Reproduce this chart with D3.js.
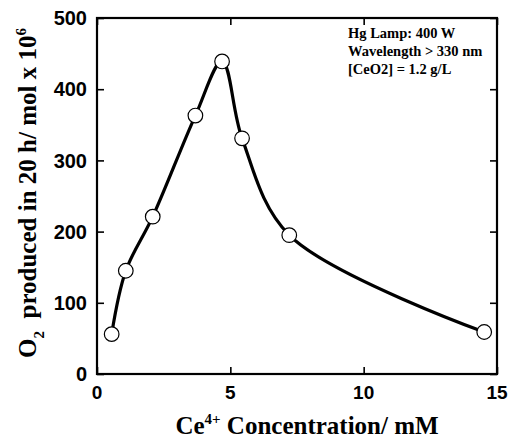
<!DOCTYPE html>
<html>
<head>
<meta charset="utf-8">
<script src="https://cdn.jsdelivr.net/npm/d3@7"></script>
<style>
  html, body { margin: 0; padding: 0; background: #fff; }
  svg { display: block; }
</style>
</head>
<body>
<svg id="chart" width="512" height="442"></svg>
<script>
const concentration = [0.55, 1.08, 2.09, 3.69, 4.69, 5.44, 7.21, 14.52];
const o2Produced = [56, 145, 221, 363, 439, 331, 195, 59];
const xTicks = [0, 5, 10, 15];
const yTicks = [0, 100, 200, 300, 400, 500];
const notes = ["Hg Lamp: 400 W", "Wavelength > 330 nm", "[CeO2] = 1.2 g/L"];

(function () {
const svg = d3.select("#chart");
const mL = 97, mR = 497, mT = 18, mB = 374;
const x = d3.scaleLinear().domain([0, 15]).range([mL, mR]);
const y = d3.scaleLinear().domain([0, 500]).range([mB, mT]);
const tickFont = "'Liberation Sans', Arial, sans-serif";
const serif = "'Liberation Serif', 'Times New Roman', serif";

const tl = 7;
const g = svg.append("g");
const axB = g.append("g").attr("transform", `translate(0,${mB})`)
  .call(d3.axisBottom(x).tickValues(xTicks).tickSize(-tl).tickFormat(""));
const axT = g.append("g").attr("transform", `translate(0,${mT})`)
  .call(d3.axisTop(x).tickValues(xTicks).tickSize(-tl).tickFormat(""));
const axL = g.append("g").attr("transform", `translate(${mL},0)`)
  .call(d3.axisLeft(y).tickValues(yTicks).tickSize(-tl).tickFormat(""));
const axR = g.append("g").attr("transform", `translate(${mR},0)`)
  .call(d3.axisRight(y).tickValues(yTicks).tickSize(-tl).tickFormat(""));
[axB, axT, axL, axR].forEach(a => {
  a.select(".domain").remove();
  a.selectAll("line").attr("stroke", "#000").attr("stroke-width", 1.6);
});

svg.append("rect").attr("x", mL).attr("y", mT)
  .attr("width", mR - mL).attr("height", mB - mT)
  .attr("fill", "none").attr("stroke", "#000").attr("stroke-width", 2.2);

svg.append("g").selectAll("text").data(yTicks).join("text")
  .attr("x", mL - 10).attr("y", d => y(d)).attr("dy", "0.36em")
  .attr("text-anchor", "end").attr("font-family", tickFont)
  .attr("font-weight", "bold").attr("font-size", 20).text(d => d);
svg.append("g").selectAll("text").data(xTicks).join("text")
  .attr("x", d => x(d)).attr("y", 399)
  .attr("text-anchor", "middle").attr("font-family", tickFont)
  .attr("font-weight", "bold").attr("font-size", 19).text(d => d);

const xt = svg.append("text").attr("x", (mL + mR) / 2 + 10).attr("y", 434)
  .attr("text-anchor", "middle").attr("font-family", serif)
  .attr("font-weight", "bold").attr("font-size", 25);
xt.append("tspan").text("Ce");
xt.append("tspan").attr("dy", -10).attr("font-size", 15).text("4+");
xt.append("tspan").attr("dy", 10).text(" Concentration/ mM");

const yt = svg.append("text")
  .attr("transform", `translate(36,193) rotate(-90)`)
  .attr("text-anchor", "middle").attr("font-family", serif)
  .attr("font-weight", "bold").attr("font-size", 25);
yt.append("tspan").text("O");
yt.append("tspan").attr("dy", 8).attr("font-size", 15).text("2");
yt.append("tspan").attr("dy", -8).text("\u00a0 produced in 20 h/ mol x 10");
yt.append("tspan").attr("dy", -10).attr("font-size", 15).text("6");

svg.append("g").selectAll("text").data(notes).join("text")
  .attr("x", 348).attr("y", (d, i) => 38 + i * 18)
  .attr("font-family", serif).attr("font-weight", "bold")
  .attr("font-size", 14.5).text(d => d);

const pts = concentration.map((c, i) => [c, o2Produced[i]]);
const line = d3.line().x(d => x(d[0])).y(d => y(d[1]))
  .curve(d3.curveCatmullRom.alpha(0.5));
svg.append("path").datum(pts).attr("d", line)
  .attr("fill", "none").attr("stroke", "#000").attr("stroke-width", 3.2);

svg.append("g").selectAll("circle").data(pts).join("circle")
  .attr("cx", d => x(d[0])).attr("cy", d => y(d[1])).attr("r", 7.3)
  .attr("fill", "#fff").attr("stroke", "#000").attr("stroke-width", 1.2);
})();
</script>
</body>
</html>
